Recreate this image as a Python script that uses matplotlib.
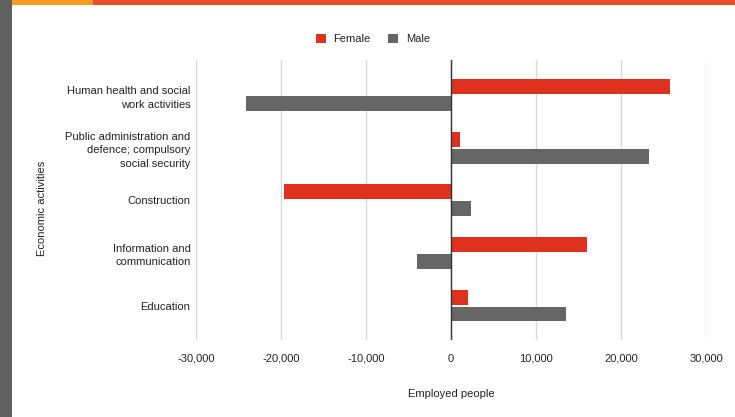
import matplotlib.pyplot as plt
import numpy as np
from matplotlib.patches import Rectangle
from matplotlib.ticker import FuncFormatter

# Employment change by economic activity and sex
activities = [
    "Human health and social\nwork activities",
    "Public administration and\ndefence; compulsory\nsocial security",
    "Construction",
    "Information and\ncommunication",
    "Education",
]
female = [25800, 1100, -19700, 16000, 2000]
male = [-24100, 23300, 2300, -4000, 13500]

RED = "#e0301e"
GREY = "#666666"
TEXT = "#222222"

plt.rcParams["font.family"] = ["Liberation Sans", "DejaVu Sans"]
plt.rcParams["font.size"] = 8

fig = plt.figure(figsize=(7.35, 4.17), dpi=100)

# page decoration: grey side bar and coloured top strip
W, H = 735.0, 417.0
fig.patches.append(Rectangle((0, 0), 12 / W, 1, transform=fig.transFigure,
                             facecolor="#606060", edgecolor="none", zorder=0))
fig.patches.append(Rectangle((12 / W, 1 - 5 / H), (93 - 12) / W, 5 / H,
                             transform=fig.transFigure, facecolor="#f59e23",
                             edgecolor="none", zorder=0))
fig.patches.append(Rectangle((93 / W, 1 - 5 / H), (W - 93) / W, 5 / H,
                             transform=fig.transFigure, facecolor="#e64d2b",
                             edgecolor="none", zorder=0))

ax = fig.add_axes([196 / W, (H - 340) / H, (706 - 196) / W, 280 / H])

y = np.arange(len(activities))
h = 15 / 52.75
gap = 1 / 52.75
ax.barh(y - h / 2 - gap, female, height=h, color=RED, label="Female", zorder=3)
ax.barh(y + h / 2 + gap, male, height=h, color=GREY, label="Male", zorder=3)

ax.set_xlim(-30000, 30000)
ax.set_ylim(len(activities) - 1 + 0.655, -0.663)
ax.set_xticks(np.arange(-30000, 30001, 10000))
ax.xaxis.set_major_formatter(FuncFormatter(lambda v, _: f"{int(v):,}"))
ax.set_yticks(y)
ax.set_yticklabels(activities, color=TEXT, multialignment="right",
                   linespacing=1.45)
ax.tick_params(axis="both", length=0, colors=TEXT)
ax.tick_params(axis="x", pad=10)
ax.tick_params(axis="y", pad=4)

ax.grid(axis="x", color="#d9d9d9", linewidth=1, zorder=0)
ax.axvline(0, color="#333333", linewidth=1, zorder=4)
for s in ax.spines.values():
    s.set_visible(False)

ax.set_xlabel("Employed people", color=TEXT, labelpad=18)
fig.text(42 / W, 1 - 208 / H, "Economic activities", rotation=90,
         ha="center", va="center", color=TEXT, fontsize=8)

fig.legend(loc="center", bbox_to_anchor=(373 / W, 1 - 39 / H), ncol=2,
           frameon=False, handlelength=0.9, handleheight=0.9,
           handletextpad=0.7, columnspacing=1.6, labelcolor=TEXT)

fig.savefig("out.png", dpi=100)
